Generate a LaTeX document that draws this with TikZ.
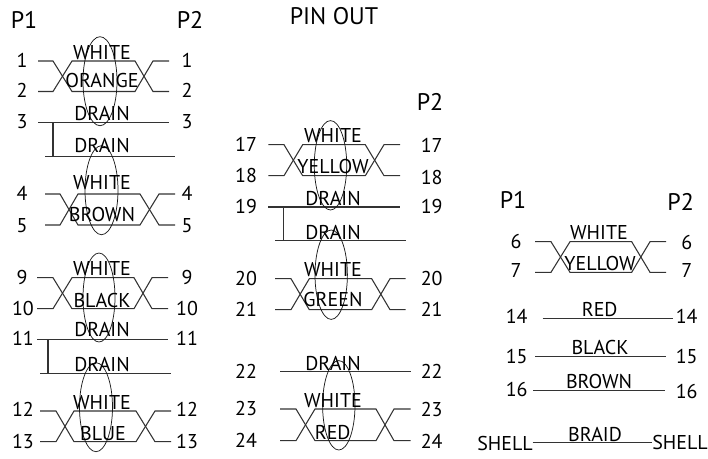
\documentclass[tikz,border=0pt]{standalone}
\usepackage{fontspec}
\setmainfont{PT Sans}
\newcommand{\twpair}[9]{% name, x0..x5, ytop, ybot
  \coordinate (#1a) at (#2,#8); \coordinate (#1b) at (#3,#8); \coordinate (#1c) at (#4,#8);
  \coordinate (#1d) at (#5,#8); \coordinate (#1e) at (#6,#8); \coordinate (#1f) at (#7,#8);
  \coordinate (#1A) at (#2,#9); \coordinate (#1B) at (#3,#9); \coordinate (#1C) at (#4,#9);
  \coordinate (#1D) at (#5,#9); \coordinate (#1E) at (#6,#9); \coordinate (#1F) at (#7,#9);
  \draw[wire] (#1a)--(#1b)--(#1C)--(#1D)--(#1e)--(#1f);
  \draw[wire] (#1A)--(#1B)--(#1c)--(#1d)--(#1E)--(#1F);}
\newcommand{\strwire}[4]{% name, x0, x1, y
  \coordinate (#1l) at (#2,#4); \coordinate (#1r) at (#3,#4);
  \draw[wire] (#1l)--(#1r);}
\newcommand{\txtlab}[4]{\node[lbl] (#1) at (#2,#3) {#4};}
\newcommand{\hdrlab}[4]{\node[lbl,head] (#1) at (#2,#3) {#4};}
\newcommand{\myoval}[4]{\draw[loop] (#1,#2) ellipse [x radius=#3, y radius=#4];}
\begin{document}
\begin{tikzpicture}[x=0.75pt,y=-0.75pt,
  wire/.style={draw=black!80,line width=0.8pt},
  loop/.style={draw=black!90,line width=0.55pt},
  lbl/.style={inner sep=0pt,outer sep=0pt,anchor=base,text=black,font=\fontsize{15}{17}\selectfont},
  head/.style={font=\fontsize{18}{20}\selectfont}]
\useasboundingbox (0,0) rectangle (708,458);
% --- left column
\twpair{pa}{38}{53}{72}{135}{153}{169}{61}{91.5}
\strwire{dc}{38}{169}{122.7}
\strwire{dd}{45}{175}{156.3}
\draw[wire] (53,122.7) -- (53,156.3);
\twpair{pb}{45}{60}{78}{140}{159}{175}{194}{225}
\twpair{pc}{37}{53}{72}{134}{152}{168}{277.7}{308.7}
\strwire{de}{37}{168}{339.3}
\strwire{df}{40}{171}{373.7}
\draw[wire] (48,339.3) -- (48,373.7);
\twpair{pd}{40}{56}{74}{136}{155}{171}{411}{441.7}
\myoval{100}{81.2}{17}{44.5}
\myoval{101.5}{190.2}{16.5}{44.5}
\myoval{99}{297.5}{16}{44.5}
\myoval{96}{407.2}{16.5}{44.5}
\hdrlab{pone}{24}{28}{P1}
\hdrlab{ptwo}{190}{28}{P2}
\hdrlab{pinout}{334}{24}{PIN OUT}
\txtlab{la1}{22}{67}{1}\txtlab{ra1}{187}{67}{1}
\txtlab{la2}{22}{97}{2}\txtlab{ra2}{187}{97}{2}
\txtlab{la3}{22}{128.7}{3}\txtlab{ra3}{187}{128.7}{3}
\txtlab{la4}{22}{200}{4}\txtlab{ra4}{187}{200}{4}
\txtlab{la5}{22}{232}{5}\txtlab{ra5}{187}{232}{5}
\txtlab{la9}{22}{284}{9}\txtlab{ra9}{187}{284}{9}
\txtlab{la10}{23}{315}{10}\txtlab{ra10}{187}{315}{10}
\txtlab{la11}{23}{345}{11}\txtlab{ra11}{187}{345}{11}
\txtlab{la12}{23}{416.7}{12}\txtlab{ra12}{187}{416.7}{12}
\txtlab{la13}{23}{448}{13}\txtlab{ra13}{187}{448}{13}
\txtlab{w1}{102}{59}{WHITE}
\txtlab{c1}{102}{87}{ORANGE}
\txtlab{d1}{102}{120.7}{DRAIN}
\txtlab{d2}{102}{152.7}{DRAIN}
\txtlab{w2}{102}{189}{WHITE}
\txtlab{c2}{102}{221.7}{BROWN}
\txtlab{w3}{102}{275.7}{WHITE}
\txtlab{c3}{102}{307}{BLACK}
\txtlab{d3}{102}{336.7}{DRAIN}
\txtlab{d4}{102}{371.7}{DRAIN}
\txtlab{w4}{102}{409}{WHITE}
\txtlab{c4}{103}{440.7}{BLUE}
% --- middle column
\twpair{pe}{268.3}{284}{302.7}{365.3}{384}{400}{144.7}{175.7}
\strwire{dg}{268.3}{400}{207}
\strwire{dh}{275}{405.7}{240.7}
\draw[wire] (283.3,207) -- (283.3,240.7);
\twpair{pf}{275}{291}{309.3}{371.7}{390}{405.7}{278.7}{309.7}
\strwire{di}{280}{410.7}{371.7}
\twpair{pg}{280}{296}{315}{376}{394}{410.7}{409}{440.7}
\myoval{330.5}{165.3}{16.2}{44.7}
\myoval{331.2}{274.7}{16.2}{44.7}
\myoval{338.8}{405.3}{16.2}{44.7}
\hdrlab{pmid}{430}{110.7}{P2}
\txtlab{lb17}{246}{151}{17}\txtlab{rb17}{431.7}{152}{17}
\txtlab{lb18}{246}{182.7}{18}\txtlab{rb18}{431.7}{184}{18}
\txtlab{lb19}{246}{213.3}{19}\txtlab{rb19}{431.7}{213.3}{19}
\txtlab{lb20}{246}{285}{20}\txtlab{rb20}{431.7}{285}{20}
\txtlab{lb21}{246}{316.7}{21}\txtlab{rb21}{431.7}{316.7}{21}
\txtlab{lb22}{246}{378}{22}\txtlab{rb22}{431.7}{378}{22}
\txtlab{lb23}{246}{415}{23}\txtlab{rb23}{431.7}{416}{23}
\txtlab{lb24}{246}{447}{24}\txtlab{rb24}{431.7}{448}{24}
\txtlab{w5}{333}{142.7}{WHITE}
\txtlab{c5}{333}{173.3}{YELLOW}
\txtlab{d5}{333}{205}{DRAIN}
\txtlab{d6}{333}{239}{DRAIN}
\txtlab{w6}{333}{276.7}{WHITE}
\txtlab{c6}{333}{306.7}{GREEN}
\txtlab{d7}{333}{370.7}{DRAIN}
\txtlab{w7}{333}{407.3}{WHITE}
\txtlab{c7}{332.7}{439}{RED}
% --- right column
\twpair{ph}{535}{551}{570}{631.7}{650}{666}{241.7}{272.3}
\strwire{r14}{542.7}{673.3}{318.7}
\strwire{r15}{535}{666}{356.7}
\strwire{r16}{533.3}{665}{390.7}
\strwire{rb}{532.7}{651.7}{442.7}
\hdrlab{pthree}{513}{208}{P1}
\hdrlab{pfour}{680.7}{210}{P2}
\txtlab{lc6}{516}{248.3}{6}\txtlab{rc6}{686.7}{249}{6}
\txtlab{lc7}{516}{277}{7}\txtlab{rc7}{686.7}{277}{7}
\txtlab{lc14}{516.7}{323}{14}\txtlab{rc14}{686.7}{323}{14}
\txtlab{lc15}{516.7}{363}{15}\txtlab{rc15}{686.7}{363.7}{15}
\txtlab{lc16}{516.7}{396.7}{16}\txtlab{rc16}{686.7}{398.3}{16}
\txtlab{lcs}{505}{450}{SHELL}\txtlab{rcs}{680}{449}{SHELL}
\txtlab{w8}{599}{239}{WHITE}
\txtlab{c8}{600}{270}{YELLOW}
\txtlab{c9}{599.7}{316.7}{RED}
\txtlab{c10}{600}{354}{BLACK}
\txtlab{c11}{599}{388}{BROWN}
\txtlab{c12}{595}{441}{BRAID}
\end{tikzpicture}
\end{document}
